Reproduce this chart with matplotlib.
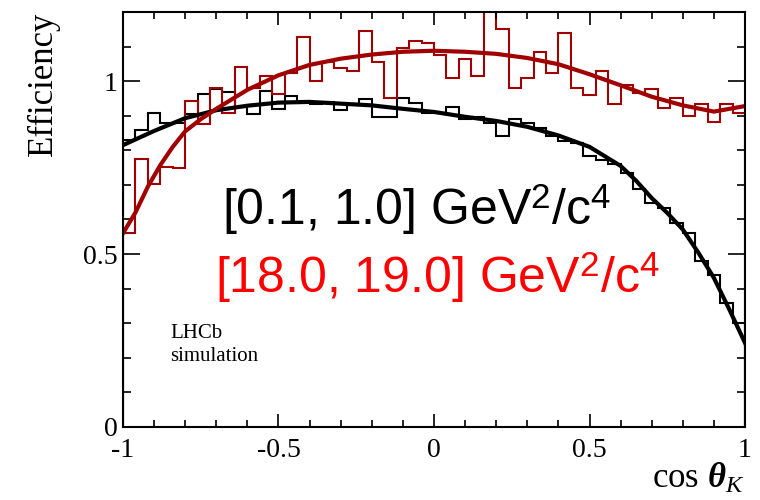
import numpy as np
import matplotlib
matplotlib.use("Agg")
import matplotlib.pyplot as plt

# binned efficiency, 50 bins in cos(theta_K)
edges = np.linspace(-1, 1, 51)
eff_low = [0.83, 0.86, 0.907, 0.88, 0.88, 0.904, 0.963, 0.977, 0.97, 0.925,
           0.904, 0.972, 0.919, 0.957, 0.943, 0.933, 0.94, 0.917, 0.933, 0.948,
           0.895, 0.895, 0.952, 0.938, 0.909, 0.907, 0.926, 0.89, 0.897, 0.88,
           0.841, 0.892, 0.878, 0.865, 0.841, 0.827, 0.822, 0.784, 0.772, 0.76,
           0.735, 0.687, 0.648, 0.634, 0.59, 0.561, 0.479, 0.44, 0.359, 0.30]
eff_high = [0.56, 0.774, 0.704, 0.753, 0.75, 0.943, 0.875, 0.981, 0.909, 1.04,
            0.981, 1.015, 0.962, 1.025, 1.127, 1.001, 1.054, 1.038, 1.03, 1.146,
            1.054, 0.952, 1.095, 1.115, 1.109, 1.075, 1.01, 1.064, 1.016, 1.25,
            1.15, 0.981, 1.01, 1.083, 1.025, 1.14, 0.981, 0.959, 1.03, 0.933,
            0.988, 0.967, 0.977, 0.923, 0.95, 0.9, 0.933, 0.882, 0.933, 0.909]

# fitted shapes
fit_low_x = [-1, -0.9, -0.8, -0.7, -0.6, -0.5, -0.4, -0.3, -0.2, -0.1, 0, 0.1, 0.2,
             0.3, 0.4, 0.5, 0.6, 0.65, 0.7, 0.75, 0.8, 0.85, 0.9, 0.95, 1.0]
fit_low_y = [0.815, 0.856, 0.893, 0.916, 0.929, 0.938, 0.940, 0.935, 0.930, 0.920,
             0.911, 0.897, 0.885, 0.868, 0.843, 0.810, 0.755, 0.712, 0.662, 0.619,
             0.571, 0.504, 0.431, 0.339, 0.243]
fit_high_x = [-1, -0.96, -0.92, -0.88, -0.84, -0.8, -0.75, -0.7, -0.6, -0.5, -0.4,
              -0.3, -0.2, -0.1, 0, 0.1, 0.2, 0.3, 0.4, 0.5, 0.6, 0.7, 0.8, 0.9, 1.0]
fit_high_y = [0.56, 0.62, 0.695, 0.757, 0.81, 0.855, 0.89, 0.92, 0.975, 1.017, 1.047,
              1.065, 1.077, 1.085, 1.088, 1.085, 1.079, 1.067, 1.049, 1.02, 0.988,
              0.955, 0.93, 0.912, 0.928]

label_low = "[0.1, 1.0] GeV$^{2}$/c$^{4}$"
label_high = "[18.0, 19.0] GeV$^{2}$/c$^{4}$"

plt.rcParams['font.family'] = ['Liberation Serif', 'DejaVu Serif']
plt.rcParams['mathtext.fontset'] = 'custom'
plt.rcParams['mathtext.rm'] = 'Liberation Sans'
plt.rcParams['mathtext.it'] = 'Liberation Serif:italic'
plt.rcParams['mathtext.bf'] = 'Liberation Serif:bold:italic'
plt.rcParams['axes.unicode_minus'] = False

dark_red = '#a00000'

fig = plt.figure(figsize=(7.6, 5), dpi=100)
ax = fig.add_axes([0.1618, 0.146, 0.8185, 0.830])

ax.stairs(eff_low, edges, color='black', lw=1.5)
ax.stairs(eff_high, edges, color=dark_red, lw=1.5)
ax.plot(fit_low_x, fit_low_y, color='black', lw=3)
ax.plot(fit_high_x, fit_high_y, color=dark_red, lw=3)

ax.set_xlim(-1, 1)
ax.set_ylim(0, 1.2)
ax.set_xticks([-1, -0.5, 0, 0.5, 1])
ax.set_xticklabels(['-1', '-0.5', '0', '0.5', '1'])
ax.set_yticks([0, 0.5, 1])
ax.set_yticklabels(['0', '0.5', '1'])
ax.set_xticks(np.arange(-1, 1.01, 0.1), minor=True)
ax.set_yticks(np.arange(0, 1.21, 0.1), minor=True)
ax.tick_params(axis='both', which='both', direction='in', top=True, right=True,
               width=1.2, labelsize=20)
ax.tick_params(axis='x', which='major', length=9.5, pad=8)
ax.tick_params(axis='x', which='minor', length=5)
ax.tick_params(axis='y', which='major', length=12, pad=4)
ax.tick_params(axis='y', which='minor', length=6)
for s in ax.spines.values():
    s.set_linewidth(1.5)

ax.text(-0.682, 0.583, label_low, color='black', fontsize=36,
        family='Liberation Sans', va='baseline')
ax.text(-0.704, 0.388, label_high, color='#ff0000', fontsize=36,
        family='Liberation Sans', va='baseline')
ax.text(-0.849, 0.258, 'LHCb', fontsize=15, va='baseline')
ax.text(-0.849, 0.19, 'simulation', fontsize=15, va='baseline')

fig.text(0.057, 0.976, 'Efficiency', rotation=90, fontsize=25, ha='center', va='top')
fig.text(0.98, 0.025, r'cos $\mathbf{\theta}_{K}$', fontsize=25, ha='right', va='baseline')

fig.savefig('out.png', dpi=100)
